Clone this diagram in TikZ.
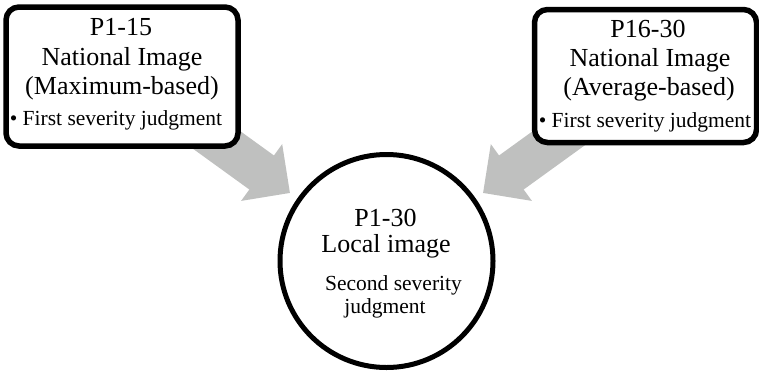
\documentclass[tikz,border=0pt]{standalone}
\usepackage{fontspec}
\setmainfont{Liberation Serif}
\usetikzlibrary{arrows.meta}
\definecolor{flowgray}{RGB}{191,192,191}
\tikzset{
  panel/.style={draw=black, line width=5.5pt, rounded corners=13pt, fill=white,
    inner sep=0pt, outer sep=0pt},
  hub/.style={draw=black, line width=5pt, circle, fill=white, inner sep=0pt,
    outer sep=0pt},
  flow/.style={draw=flowgray, line width=42pt,
    -{Triangle[length=35pt,width=68pt,fill=flowgray]}},
  big/.style={anchor=base, inner sep=0pt, font=\fontsize{26}{30}\selectfont},
  small/.style={anchor=base, inner sep=0pt, font=\fontsize{21.5}{24}\selectfont},
}
\begin{document}
\begin{tikzpicture}[x=1pt, y=-1pt]
\useasboundingbox (0,0) rectangle (759,370);

% arrow anchors
\coordinate (ls) at (160,99);
\coordinate (lt) at (290,193);
\coordinate (rs) at (613,99);
\coordinate (rt) at (483,193);

% flow arrows (drawn first, boxes cover their tails)
\draw[flow] (ls) -- (lt);
\draw[flow] (rs) -- (rt);

% source panels
\node[panel, minimum width=232pt, minimum height=139pt] (left) at (122,76.5) {};
\node[panel, minimum width=222pt, minimum height=133pt] (right) at (645.5,76) {};

% target circle
\node[hub, minimum size=213pt] (local) at (386.5,261) {};

% left panel text
\node[big] (l1) at (121,35) {P1-15};
\node[big] (l2) at (122,65) {National Image};
\node[big] (l3) at (122,94.5) {(Maximum-based)};
\node[small] (l4) at (116,125) {\textbullet\ First severity judgment};

% right panel text
\node[big] (r1) at (648,37) {P16-30};
\node[big] (r2) at (650,66) {National Image};
\node[big] (r3) at (649,95) {(Average-based)};
\node[small] (r4) at (645,127) {\textbullet\ First severity judgment};

% circle text
\node[big] (c1) at (385.5,226) {P1-30};
\node[big] (c2) at (386,252) {Local image};
\node[small] (c3) at (393.5,290.5) {Second severity};
\node[small] (c4) at (385,313) {judgment};
\end{tikzpicture}
\end{document}
